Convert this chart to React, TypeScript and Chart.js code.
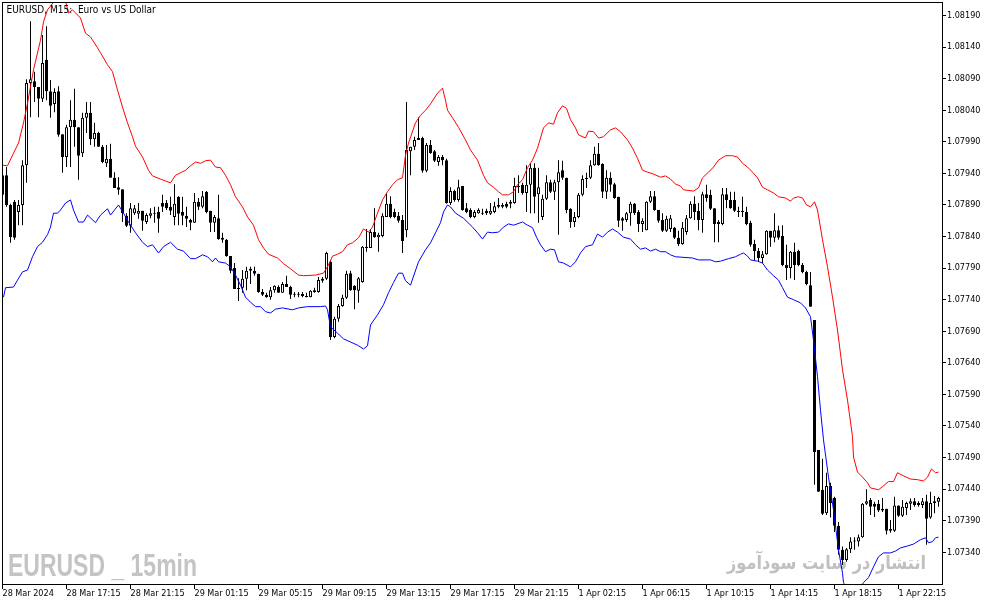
import React, { useEffect, useRef } from 'react';
import { Chart, registerables } from 'chart.js';

Chart.register(...registerables);

// ---- EURUSD M15 candles (bar index 0 = 28 Mar 13:15) ----
const opens = [
  1.07937, 1.07937, 1.07890, 1.07895, 1.07879, 1.07890, 1.07953, 1.08083, 1.08086, 1.08077,
  1.08058, 1.08120, 1.08070, 1.08050, 1.08070, 1.08002, 1.07966, 1.08013, 1.08025, 1.08013,
  1.07972, 1.08028, 1.08036, 1.07994, 1.08004, 1.07982, 1.07956, 1.07963, 1.07933, 1.07918,
  1.07915, 1.07873, 1.07857, 1.07877, 1.07876, 1.07881, 1.07863, 1.07873, 1.07877, 1.07879,
  1.07893, 1.07893, 1.07887, 1.07871, 1.07903, 1.07879, 1.07873, 1.07866, 1.07862, 1.07895,
  1.07887, 1.07911, 1.07881, 1.07862, 1.07869, 1.07838, 1.07835, 1.07809, 1.07790, 1.07757,
  1.07759, 1.07773, 1.07789, 1.07786, 1.07781, 1.07752, 1.07748, 1.07744, 1.07755, 1.07760,
  1.07751, 1.07765, 1.07760, 1.07749, 1.07749, 1.07749, 1.07746, 1.07744, 1.07752, 1.07752,
  1.07770, 1.07773, 1.07800, 1.07681, 1.07710, 1.07730, 1.07743, 1.07782, 1.07762, 1.07754,
  1.07768, 1.07822, 1.07822, 1.07847, 1.07839, 1.07841, 1.07871, 1.07892, 1.07879, 1.07873,
  1.07866, 1.07850, 1.07975, 1.07982, 1.07993, 1.07996, 1.07944, 1.07985, 1.07975, 1.07958,
  1.07966, 1.07961, 1.07893, 1.07912, 1.07898, 1.07920, 1.07885, 1.07882, 1.07871, 1.07877,
  1.07877, 1.07881, 1.07876, 1.07879, 1.07890, 1.07887, 1.07892, 1.07892, 1.07893, 1.07920,
  1.07922, 1.07909, 1.07922, 1.07949, 1.07907, 1.07871, 1.07900, 1.07926, 1.07911, 1.07926,
  1.07945, 1.07933, 1.07884, 1.07863, 1.07871, 1.07906, 1.07933, 1.07933, 1.07953, 1.07971,
  1.07955, 1.07911, 1.07933, 1.07923, 1.07903, 1.07869, 1.07866, 1.07877, 1.07892, 1.07879,
  1.07860, 1.07850, 1.07895, 1.07904, 1.07882, 1.07866, 1.07849, 1.07852, 1.07854, 1.07838,
  1.07828, 1.07847, 1.07869, 1.07892, 1.07881, 1.07866, 1.07907, 1.07906, 1.07885, 1.07863,
  1.07860, 1.07907, 1.07898, 1.07898, 1.07881, 1.07881, 1.07879, 1.07862, 1.07828, 1.07817,
  1.07806, 1.07812, 1.07849, 1.07838, 1.07850, 1.07841, 1.07795, 1.07790, 1.07816, 1.07817,
  1.07795, 1.07784, 1.07763, 1.07708, 1.07502, 1.07439, 1.07402, 1.07445, 1.07426, 1.07382,
  1.07344, 1.07328, 1.07345, 1.07357, 1.07357, 1.07364, 1.07417, 1.07423, 1.07417, 1.07417,
  1.07409, 1.07409, 1.07377, 1.07374, 1.07414, 1.07398, 1.07410, 1.07417, 1.07421, 1.07418,
  1.07415, 1.07421, 1.07395, 1.07418, 1.07420,
];

const highs = [
  1.07945, 1.07950, 1.07892, 1.07898, 1.07898, 1.07961, 1.08089, 1.08181, 1.08101, 1.08077,
  1.08159, 1.08173, 1.08088, 1.08075, 1.08078, 1.08002, 1.08017, 1.08056, 1.08074, 1.08013,
  1.08036, 1.08053, 1.08053, 1.08020, 1.08006, 1.07985, 1.07985, 1.07987, 1.07942, 1.07934,
  1.07915, 1.07877, 1.07893, 1.07890, 1.07893, 1.07881, 1.07877, 1.07885, 1.07887, 1.07887,
  1.07906, 1.07898, 1.07903, 1.07923, 1.07904, 1.07903, 1.07887, 1.07868, 1.07909, 1.07901,
  1.07912, 1.07912, 1.07881, 1.07874, 1.07906, 1.07846, 1.07836, 1.07809, 1.07798, 1.07774,
  1.07787, 1.07792, 1.07792, 1.07792, 1.07781, 1.07757, 1.07751, 1.07760, 1.07763, 1.07763,
  1.07768, 1.07778, 1.07762, 1.07752, 1.07752, 1.07752, 1.07751, 1.07755, 1.07759, 1.07776,
  1.07776, 1.07816, 1.07803, 1.07713, 1.07733, 1.07748, 1.07786, 1.07786, 1.07763, 1.07776,
  1.07825, 1.07852, 1.07852, 1.07885, 1.07846, 1.07877, 1.07909, 1.07904, 1.07884, 1.07879,
  1.07874, 1.08053, 1.07982, 1.07998, 1.08029, 1.07998, 1.07988, 1.07993, 1.07977, 1.07969,
  1.07969, 1.07963, 1.07918, 1.07914, 1.07930, 1.07920, 1.07893, 1.07885, 1.07882, 1.07885,
  1.07884, 1.07884, 1.07893, 1.07895, 1.07901, 1.07893, 1.07895, 1.07898, 1.07933, 1.07937,
  1.07925, 1.07953, 1.07956, 1.07956, 1.07949, 1.07906, 1.07937, 1.07930, 1.07930, 1.07961,
  1.07960, 1.07933, 1.07885, 1.07879, 1.07909, 1.07937, 1.07941, 1.07961, 1.07982, 1.07988,
  1.07956, 1.07945, 1.07942, 1.07925, 1.07903, 1.07871, 1.07879, 1.07895, 1.07893, 1.07882,
  1.07869, 1.07896, 1.07912, 1.07912, 1.07882, 1.07877, 1.07873, 1.07874, 1.07855, 1.07849,
  1.07863, 1.07874, 1.07896, 1.07904, 1.07893, 1.07911, 1.07922, 1.07914, 1.07885, 1.07866,
  1.07917, 1.07917, 1.07911, 1.07911, 1.07887, 1.07903, 1.07887, 1.07865, 1.07835, 1.07822,
  1.07817, 1.07850, 1.07849, 1.07877, 1.07857, 1.07858, 1.07827, 1.07817, 1.07830, 1.07819,
  1.07798, 1.07786, 1.07784, 1.07708, 1.07502, 1.07488, 1.07466, 1.07450, 1.07428, 1.07388,
  1.07349, 1.07347, 1.07364, 1.07364, 1.07368, 1.07418, 1.07440, 1.07426, 1.07420, 1.07423,
  1.07426, 1.07409, 1.07391, 1.07428, 1.07414, 1.07423, 1.07420, 1.07425, 1.07426, 1.07421,
  1.07426, 1.07431, 1.07436, 1.07429, 1.07428,
];

const lows = [
  1.07898, 1.07887, 1.07830, 1.07835, 1.07858, 1.07858, 1.07925, 1.08029, 1.08053, 1.08029,
  1.08053, 1.08056, 1.08028, 1.08037, 1.07998, 1.07941, 1.07950, 1.07950, 1.07982, 1.07930,
  1.07966, 1.08004, 1.07985, 1.07982, 1.07982, 1.07956, 1.07950, 1.07933, 1.07917, 1.07906,
  1.07863, 1.07855, 1.07846, 1.07874, 1.07868, 1.07849, 1.07860, 1.07869, 1.07862, 1.07846,
  1.07879, 1.07882, 1.07874, 1.07858, 1.07858, 1.07858, 1.07855, 1.07850, 1.07862, 1.07882,
  1.07885, 1.07877, 1.07847, 1.07847, 1.07835, 1.07830, 1.07808, 1.07782, 1.07757, 1.07738,
  1.07751, 1.07755, 1.07765, 1.07778, 1.07751, 1.07746, 1.07743, 1.07740, 1.07751, 1.07751,
  1.07751, 1.07760, 1.07741, 1.07744, 1.07744, 1.07744, 1.07744, 1.07744, 1.07751, 1.07751,
  1.07767, 1.07771, 1.07676, 1.07679, 1.07705, 1.07729, 1.07741, 1.07754, 1.07725, 1.07735,
  1.07767, 1.07816, 1.07822, 1.07838, 1.07816, 1.07839, 1.07871, 1.07869, 1.07869, 1.07862,
  1.07814, 1.07839, 1.07937, 1.07977, 1.07993, 1.07941, 1.07942, 1.07971, 1.07958, 1.07952,
  1.07953, 1.07892, 1.07890, 1.07895, 1.07895, 1.07881, 1.07877, 1.07869, 1.07869, 1.07876,
  1.07874, 1.07874, 1.07874, 1.07877, 1.07885, 1.07885, 1.07885, 1.07885, 1.07892, 1.07909,
  1.07906, 1.07879, 1.07877, 1.07877, 1.07862, 1.07866, 1.07898, 1.07909, 1.07898, 1.07843,
  1.07930, 1.07877, 1.07854, 1.07855, 1.07869, 1.07904, 1.07917, 1.07931, 1.07952, 1.07952,
  1.07901, 1.07900, 1.07911, 1.07900, 1.07855, 1.07849, 1.07863, 1.07857, 1.07874, 1.07847,
  1.07847, 1.07850, 1.07893, 1.07881, 1.07862, 1.07847, 1.07847, 1.07847, 1.07836, 1.07825,
  1.07827, 1.07843, 1.07868, 1.07866, 1.07850, 1.07846, 1.07895, 1.07882, 1.07831, 1.07831,
  1.07858, 1.07885, 1.07884, 1.07879, 1.07871, 1.07871, 1.07858, 1.07824, 1.07803, 1.07800,
  1.07798, 1.07811, 1.07824, 1.07831, 1.07835, 1.07793, 1.07771, 1.07774, 1.07771, 1.07793,
  1.07782, 1.07763, 1.07729, 1.07447, 1.07436, 1.07399, 1.07399, 1.07395, 1.07372, 1.07336,
  1.07320, 1.07325, 1.07339, 1.07344, 1.07349, 1.07363, 1.07415, 1.07399, 1.07396, 1.07404,
  1.07404, 1.07368, 1.07371, 1.07372, 1.07396, 1.07396, 1.07399, 1.07407, 1.07412, 1.07412,
  1.07410, 1.07352, 1.07393, 1.07402, 1.07412,
];

const closes = [
  1.07906, 1.07890, 1.07839, 1.07838, 1.07890, 1.07953, 1.08083, 1.08089, 1.08077, 1.08058,
  1.08115, 1.08070, 1.08047, 1.08069, 1.08001, 1.07966, 1.08013, 1.08025, 1.08013, 1.07968,
  1.08028, 1.08036, 1.07994, 1.08004, 1.07982, 1.07958, 1.07963, 1.07933, 1.07917, 1.07914,
  1.07877, 1.07857, 1.07885, 1.07885, 1.07881, 1.07865, 1.07874, 1.07877, 1.07876, 1.07868,
  1.07887, 1.07885, 1.07881, 1.07892, 1.07876, 1.07873, 1.07868, 1.07862, 1.07895, 1.07887,
  1.07904, 1.07879, 1.07862, 1.07871, 1.07836, 1.07835, 1.07809, 1.07786, 1.07757, 1.07759,
  1.07773, 1.07786, 1.07786, 1.07781, 1.07752, 1.07748, 1.07744, 1.07755, 1.07762, 1.07751,
  1.07765, 1.07760, 1.07748, 1.07748, 1.07748, 1.07746, 1.07744, 1.07754, 1.07755, 1.07771,
  1.07773, 1.07814, 1.07681, 1.07710, 1.07730, 1.07743, 1.07781, 1.07755, 1.07755, 1.07774,
  1.07824, 1.07824, 1.07847, 1.07839, 1.07843, 1.07873, 1.07892, 1.07871, 1.07871, 1.07865,
  1.07833, 1.07977, 1.07982, 1.07993, 1.07996, 1.07944, 1.07985, 1.07972, 1.07960, 1.07966,
  1.07961, 1.07893, 1.07912, 1.07898, 1.07918, 1.07882, 1.07879, 1.07871, 1.07879, 1.07882,
  1.07876, 1.07877, 1.07881, 1.07888, 1.07887, 1.07890, 1.07887, 1.07895, 1.07920, 1.07918,
  1.07909, 1.07922, 1.07949, 1.07903, 1.07918, 1.07900, 1.07926, 1.07911, 1.07926, 1.07942,
  1.07933, 1.07882, 1.07863, 1.07871, 1.07906, 1.07931, 1.07931, 1.07953, 1.07971, 1.07953,
  1.07911, 1.07933, 1.07922, 1.07901, 1.07865, 1.07865, 1.07877, 1.07892, 1.07877, 1.07860,
  1.07865, 1.07895, 1.07904, 1.07882, 1.07865, 1.07849, 1.07868, 1.07869, 1.07838, 1.07828,
  1.07854, 1.07869, 1.07892, 1.07879, 1.07866, 1.07907, 1.07901, 1.07884, 1.07860, 1.07860,
  1.07907, 1.07898, 1.07885, 1.07881, 1.07879, 1.07879, 1.07860, 1.07827, 1.07817, 1.07806,
  1.07812, 1.07849, 1.07838, 1.07850, 1.07838, 1.07795, 1.07790, 1.07816, 1.07795, 1.07795,
  1.07784, 1.07765, 1.07729, 1.07499, 1.07436, 1.07401, 1.07445, 1.07418, 1.07382, 1.07344,
  1.07328, 1.07345, 1.07357, 1.07358, 1.07364, 1.07417, 1.07421, 1.07412, 1.07412, 1.07406,
  1.07406, 1.07374, 1.07374, 1.07414, 1.07398, 1.07412, 1.07418, 1.07421, 1.07415, 1.07415,
  1.07421, 1.07393, 1.07418, 1.07421, 1.07426,
];

// ---- upper band (red) : bar index / price ----
const upperIdx = [
  0, 1.25, 2.75, 4, 5.25, 6.25, 7.75, 9.5, 10.25, 11.25, 12.75, 14, 15.5, 16.5, 17.5, 19.5, 20.75, 22,
  23.75, 24.5, 26.25, 27.5, 28.75, 30, 31.25, 32.5, 33.25, 35, 36.5, 37.5, 39.5, 40.75, 42, 43.25,
  45.75, 47, 48.25, 49.5, 50.75, 52, 53.25, 54.5, 55.75, 57, 58.25, 60, 61.25, 62.75, 64, 65.25,
  66.5, 68.75, 70.25, 72, 74, 75.25, 78.25, 80.25, 81.5, 82.5, 83.75, 85, 86.25, 87.5, 89, 90.25,
  91.5, 92.5, 93.75, 95, 96.25, 97.5, 98.75, 100, 100.75, 101.5, 103.25, 104.5, 105.75, 107, 108.75,
  110, 110.75, 111.25, 112.5, 114, 115.75, 117, 118.75, 120.25, 121.25, 122.75, 124, 125, 126.5,
  127.75, 128.75, 130, 131.25, 132.5, 133.75, 134.5, 135.25, 136.5, 137.75, 138.75, 140, 141, 142,
  143.25, 144, 145.75, 146.5, 147.75, 149, 150.25, 152, 153.25, 154.5, 156.25, 157.5, 158.75, 160,
  161.25, 162.75, 164.5, 165.75, 167, 168.25, 169.5, 170.25, 172.75, 174, 175, 176.5, 177.75, 179,
  180.75, 182.5, 183.75, 185, 186.25, 187.5, 188.75, 190, 191.25, 192.75, 194, 195.75, 197, 197.75,
  199, 200, 201, 202, 203, 203.75, 205, 206.25, 207.5, 208.75, 210, 211.25, 212.5, 212.75, 213.75,
  215, 216.25, 217, 219, 220, 221.5, 222.75, 223.75, 225.25, 227, 228.75, 230.25, 231.25, 232.25,
  233.25, 234,
];
const upperVal = [
  1.07953, 1.07952, 1.07972, 1.07988, 1.08020, 1.08051, 1.08104, 1.08151, 1.08180, 1.08199, 1.08211, 1.08227, 1.08219, 1.08194, 1.08199, 1.08186, 1.08162, 1.08156,
  1.08139, 1.08131, 1.08112, 1.08101, 1.08072, 1.08045, 1.08020, 1.07998, 1.07983, 1.07966, 1.07945, 1.07936, 1.07931, 1.07928, 1.07925, 1.07937,
  1.07945, 1.07952, 1.07958, 1.07956, 1.07960, 1.07961, 1.07950, 1.07949, 1.07937, 1.07922, 1.07903, 1.07887, 1.07871, 1.07858, 1.07835, 1.07822,
  1.07812, 1.07806, 1.07797, 1.07789, 1.07779, 1.07778, 1.07779, 1.07782, 1.07795, 1.07809, 1.07812, 1.07816, 1.07827, 1.07830, 1.07838, 1.07852,
  1.07847, 1.07855, 1.07877, 1.07898, 1.07911, 1.07922, 1.07930, 1.07933, 1.07969, 1.07988, 1.08020, 1.08032, 1.08040, 1.08050, 1.08067,
  1.08075, 1.08056, 1.08040, 1.08028, 1.08013, 1.07993, 1.07977, 1.07961, 1.07937, 1.07925, 1.07918, 1.07911, 1.07906, 1.07906,
  1.07911, 1.07922, 1.07930, 1.07949, 1.07961, 1.07980, 1.07996, 1.08012, 1.08020, 1.08018, 1.08036, 1.08047, 1.08043, 1.08025,
  1.08012, 1.08001, 1.07996, 1.08007, 1.08006, 1.07996, 1.07998, 1.08009, 1.08012, 1.08006, 1.07993, 1.07980, 1.07964, 1.07945,
  1.07942, 1.07939, 1.07934, 1.07936, 1.07931, 1.07923, 1.07920, 1.07914, 1.07912, 1.07917, 1.07933, 1.07942, 1.07950, 1.07961,
  1.07968, 1.07968, 1.07966, 1.07956, 1.07950, 1.07942, 1.07933, 1.07918, 1.07914, 1.07909, 1.07903, 1.07901, 1.07896, 1.07901,
  1.07903, 1.07901, 1.07890, 1.07887, 1.07895, 1.07882, 1.07835, 1.07792, 1.07744, 1.07692, 1.07629, 1.07581, 1.07523, 1.07491, 1.07467,
  1.07459, 1.07450, 1.07442, 1.07439, 1.07444, 1.07452, 1.07452, 1.07466, 1.07461, 1.07456, 1.07455, 1.07453, 1.07459, 1.07472,
  1.07466, 1.07467,
];

// ---- lower band (blue) : bar index / price ----
const lowerIdx = [
  0.25, 0.75, 2.75, 3.75, 5, 6.25, 7.5, 8.75, 10, 11.25, 12, 12.75, 13.75, 14.5, 15.75, 17, 17.75, 19,
  20.25, 21.25, 23.25, 24.5, 26.25, 27, 29, 30.25, 31.5, 33.25, 35, 36.25, 37.5, 39, 40.25, 42, 43.75,
  45.25, 47, 48.25, 50, 51.25, 52.5, 53.25, 54, 55.75, 57, 58.25, 59.5, 60.75, 62, 63.25, 64.5, 65.75,
  67, 68.25, 70, 72.5, 74, 76.25, 79.5, 80.75, 81.25, 82, 83.75, 85.25, 87, 88.75, 90.25, 91.25, 92,
  93.75, 95.25, 96.5, 97.75, 99, 100, 100.75, 102, 104, 105.75, 107, 108.25, 109.5, 110.25, 111.25,
  112, 113.25, 115.25, 117.5, 118.75, 120, 121.25, 122.5, 124, 125.25, 126.5, 127.75, 130, 131.25,
  132.5, 133.5, 134.5, 135.75, 137, 138, 139, 140.25, 142, 143.25, 144.5, 145.75, 147.5, 148.75, 150,
  151.25, 152.5, 153.75, 155.25, 157, 158.25, 159.5, 160.75, 162, 163.25, 164.5, 165.75, 167, 168.25,
  172.5, 174, 177, 178.25, 179.5, 181.5, 183.25, 184.5, 185.25, 186.25, 187, 188.75, 190, 191.25,
  192.75, 194, 195, 196.25, 197.75, 199.5, 200.75, 202, 202.75, 203.75, 204.5, 205.25, 206.5, 207.75,
  209, 210, 210.25, 212.5, 215.25, 216.5, 217.75, 219, 220.25, 222, 223.25, 224.5, 226.25, 227.75,
  229.5, 230.75, 231.5, 232.5, 233.25, 234,
];
const lowerVal = [
  1.07744, 1.07759, 1.07760, 1.07771, 1.07784, 1.07787, 1.07808, 1.07824, 1.07831, 1.07843, 1.07855, 1.07877, 1.07877, 1.07882, 1.07893, 1.07898, 1.07882, 1.07863,
  1.07863, 1.07874, 1.07862, 1.07874, 1.07884, 1.07874, 1.07890, 1.07877, 1.07863, 1.07846, 1.07831, 1.07824, 1.07827, 1.07814, 1.07824, 1.07831, 1.07820,
  1.07817, 1.07805, 1.07805, 1.07811, 1.07808, 1.07800, 1.07806, 1.07800, 1.07798, 1.07792, 1.07779, 1.07763, 1.07744, 1.07736, 1.07729, 1.07729, 1.07721,
  1.07719, 1.07725, 1.07727, 1.07724, 1.07727, 1.07729, 1.07729, 1.07730, 1.07724, 1.07697, 1.07687, 1.07678, 1.07673, 1.07668, 1.07662, 1.07667, 1.07700,
  1.07716, 1.07732, 1.07751, 1.07767, 1.07782, 1.07782, 1.07770, 1.07763, 1.07800, 1.07819, 1.07830, 1.07846, 1.07862, 1.07879, 1.07890,
  1.07887, 1.07877, 1.07869, 1.07855, 1.07846, 1.07836, 1.07847, 1.07846, 1.07847, 1.07855, 1.07860, 1.07858, 1.07863, 1.07858,
  1.07854, 1.07839, 1.07827, 1.07816, 1.07820, 1.07819, 1.07800, 1.07798, 1.07792, 1.07800, 1.07814, 1.07824, 1.07827, 1.07844, 1.07839,
  1.07847, 1.07852, 1.07847, 1.07839, 1.07836, 1.07827, 1.07820, 1.07822, 1.07817, 1.07820, 1.07816, 1.07816, 1.07811, 1.07808,
  1.07806, 1.07803, 1.07803, 1.07800, 1.07801, 1.07805, 1.07808, 1.07812, 1.07814, 1.07809, 1.07803, 1.07801, 1.07798, 1.07787,
  1.07778, 1.07771, 1.07759, 1.07744, 1.07740, 1.07735, 1.07727, 1.07713, 1.07676, 1.07618, 1.07565, 1.07518, 1.07459, 1.07407,
  1.07344, 1.07307, 1.07292, 1.07265, 1.07292, 1.07300, 1.07317, 1.07333, 1.07339, 1.07339, 1.07342, 1.07347, 1.07350, 1.07353,
  1.07360, 1.07363, 1.07355, 1.07357, 1.07363, 1.07364,
];

// ---- axis labels ----
const xTickLabels = [
  '28 Mar 2024', '28 Mar 17:15', '28 Mar 21:15', '29 Mar 01:15', '29 Mar 05:15',
  '29 Mar 09:15', '29 Mar 13:15', '29 Mar 17:15', '29 Mar 21:15', '1 Apr 02:15',
  '1 Apr 06:15', '1 Apr 10:15', '1 Apr 14:15', '1 Apr 18:15', '1 Apr 22:15',
];
const barsPerXTick = 16;
const yTickValues = [
  1.07340, 1.07390, 1.07440, 1.07490, 1.07540, 1.07590, 1.07640, 1.07690, 1.07740,
  1.07790, 1.07840, 1.07890, 1.07940, 1.07990, 1.08040, 1.08090, 1.08140, 1.08190,
];
const yMin = 1.072898;
const yMax = 1.082114;

const titleText = 'EURUSD, M15:  Euro vs US Dollar';
const watermarkLeft = 'EURUSD _ 15min';
const watermarkRight = 'انتشار در سایت سودآموز';

const UI_FONT = '"DejaVu Sans Condensed", "Liberation Sans", sans-serif';

export default function App() {
  const canvasRef = useRef<HTMLCanvasElement | null>(null);

  useEffect(() => {
    document.body.style.margin = '0';
    document.body.style.background = '#ffffff';
    const canvas = canvasRef.current;
    if (!canvas) return;

    const bodyData = opens.map((o, i) => ({ x: i, y: [o, closes[i]] }));
    const wickData = highs.map((h, i) => ({ x: i, y: [lows[i], h] }));
    const bodyFill = opens.map((o, i) => (closes[i] > o ? '#ffffff' : '#000000'));
    const upperData = upperIdx.map((x, k) => ({ x, y: upperVal[k] }));
    const lowerData = lowerIdx.map((x, k) => ({ x, y: lowerVal[k] }));

    const decor = {
      id: 'mtDecor',
      beforeDatasetsDraw(chart: any) {
        const c = chart.ctx;
        const a = chart.chartArea;
        c.save();
        c.fillStyle = '#c4c4c4';
        c.font = 'bold 32px "Liberation Sans", Arial, sans-serif';
        c.textAlign = 'left';
        c.textBaseline = 'alphabetic';
        c.fillText(watermarkLeft, a.left + 6, a.bottom - 8, 189);
        c.fillStyle = '#c0c0c0';
        c.font = 'bold 19px "DejaVu Sans", sans-serif';
        c.direction = 'rtl';
        c.textAlign = 'right';
        c.fillText(watermarkRight, a.right - 16, a.bottom - 15, 199);
        c.restore();
      },
      afterDatasetsDraw(chart: any) {
        const c = chart.ctx;
        const a = chart.chartArea;
        c.save();
        c.fillStyle = '#000000';
        c.font = '10px ' + UI_FONT;
        c.textAlign = 'left';
        c.textBaseline = 'alphabetic';
        c.fillText(titleText, a.left + 4.5, a.top + 11);
        c.restore();
      },
      afterDraw(chart: any) {
        const c = chart.ctx;
        const a = chart.chartArea;
        c.save();
        c.strokeStyle = '#000000';
        c.lineWidth = 1;
        c.strokeRect(a.left + 0.5, a.top + 0.5, a.right - a.left, a.bottom - a.top);
        c.restore();
      },
    };

    const chart = new Chart(canvas, {
      type: 'bar',
      data: {
        datasets: [
          {
            type: 'line',
            data: upperData,
            borderColor: '#ff0000',
            borderWidth: 1,
            pointRadius: 0,
            tension: 0,
            fill: false,
            order: 0,
          } as any,
          {
            type: 'line',
            data: lowerData,
            borderColor: '#0000ff',
            borderWidth: 1,
            pointRadius: 0,
            tension: 0,
            fill: false,
            order: 0,
          } as any,
          {
            type: 'bar',
            data: bodyData,
            backgroundColor: bodyFill,
            borderColor: '#000000',
            borderWidth: 1,
            borderSkipped: false,
            barThickness: 3,
            maxBarThickness: 3,
            minBarLength: 1,
            grouped: false,
            inflateAmount: 0,
            order: 1,
          } as any,
          {
            type: 'bar',
            data: wickData,
            backgroundColor: '#000000',
            borderWidth: 0,
            barThickness: 1,
            maxBarThickness: 1,
            minBarLength: 1,
            grouped: false,
            inflateAmount: 0,
            order: 2,
          } as any,
        ],
      },
      options: {
        animation: false,
        responsive: true,
        maintainAspectRatio: false,
        events: [],
        layout: { padding: { left: 2, top: 2, right: 0, bottom: 0 } },
        plugins: {
          legend: { display: false },
          tooltip: { enabled: false },
          title: { display: false },
        },
        scales: {
          x: {
            type: 'linear',
            min: -0.125,
            max: opens.length - 0.125,
            offset: false,
            afterBuildTicks: (s: any) => {
              s.ticks = xTickLabels.map((_, k) => ({ value: k * barsPerXTick }));
            },
            afterFit: (s: any) => {
              s.height = 21;
              s.paddingLeft = 0;
              s.paddingRight = 0;
            },
            grid: { drawOnChartArea: false, drawTicks: true, tickLength: 5, color: '#000000', offset: false },
            border: { display: true, color: '#000000', width: 1 },
            ticks: {
              color: '#000000',
              padding: 0,
              align: 'start',
              maxRotation: 0,
              minRotation: 0,
              autoSkip: false,
              font: { family: UI_FONT, size: 9, lineHeight: 1 },
              callback: (_v: any, i: number) => xTickLabels[i] ?? '',
            },
          } as any,
          y: {
            type: 'linear',
            position: 'right',
            min: yMin,
            max: yMax,
            beginAtZero: false,
            afterBuildTicks: (s: any) => {
              s.ticks = yTickValues.map((v) => ({ value: v }));
            },
            afterFit: (s: any) => {
              s.width = 52;
              s.paddingTop = 0;
              s.paddingBottom = 0;
            },
            grid: { drawOnChartArea: false, drawTicks: true, tickLength: 4, color: '#000000' },
            border: { display: true, color: '#000000', width: 1 },
            ticks: {
              color: '#000000',
              padding: 1,
              font: { family: UI_FONT, size: 9, lineHeight: 1 },
              callback: (v: any) => Number(v).toFixed(5),
            },
          } as any,
        },
      },
      plugins: [decor],
    } as any);

    return () => chart.destroy();
  }, []);

  return (
    <div style={{ position: 'relative', width: 994, height: 605, background: '#ffffff' }}>
      <canvas ref={canvasRef} />
    </div>
  );
}
